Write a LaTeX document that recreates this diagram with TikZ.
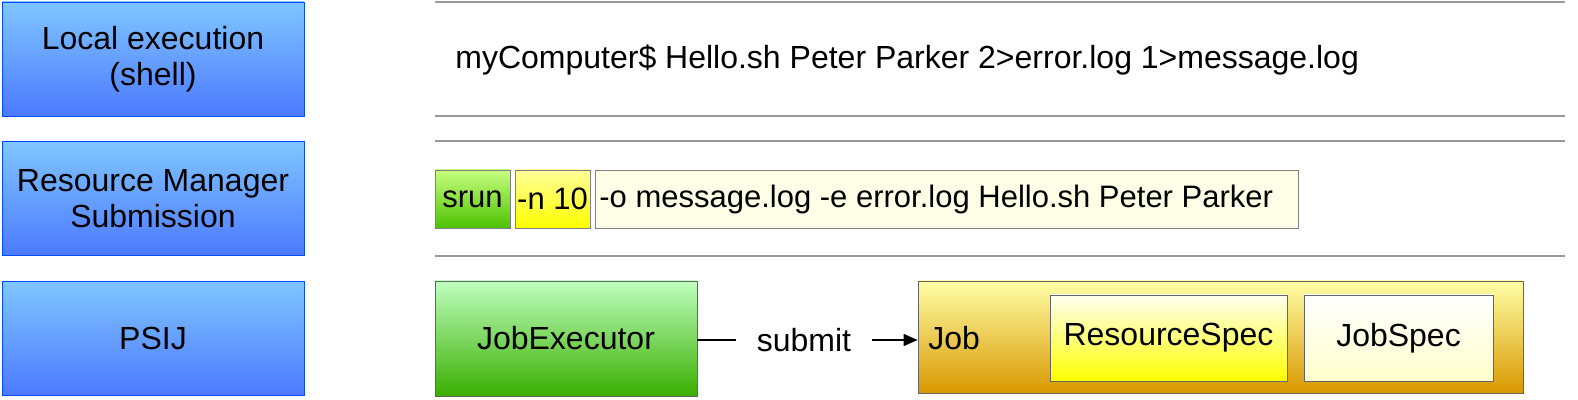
\documentclass[tikz,border=0pt]{standalone}
\usepackage{fontspec}
\setmainfont{Liberation Sans}
\usetikzlibrary{arrows.meta}
\begin{document}
\begin{tikzpicture}[x=0.5pt,y=-0.5pt,
  lbl/.style={draw=blue!70!cyan,top color=blue!45!cyan!50!white,bottom color=blue!75!cyan!70!white,align=center,font=\fontsize{16}{18}\selectfont,inner sep=0},
  hl/.style={draw=black!40,line width=0.6pt},
  cmd/.style={draw=black!50,font=\fontsize{15.5}{17}\selectfont,inner sep=0},
  txt/.style={font=\fontsize{16}{18}\selectfont,inner sep=0}]
\useasboundingbox (0,0) rectangle (1578,400);
\node[lbl,minimum width=151pt,minimum height=57pt] (l1) at (153,59) {Local execution\\(shell)};
\node[lbl,minimum width=151pt,minimum height=57pt] (l2) at (153,198.5) {Resource Manager\\Submission};
\node[lbl,minimum width=151pt,minimum height=57pt] (l3) at (153,338.5) {PSIJ};
\coordinate (a1) at (435,2); \coordinate (b1) at (1565,2);
\coordinate (a2) at (435,116); \coordinate (b2) at (1565,116);
\coordinate (a3) at (435,141); \coordinate (b3) at (1565,141);
\coordinate (a4) at (435,256); \coordinate (b4) at (1565,256);
\draw[hl] (a1)--(b1); \draw[hl] (a2)--(b2); \draw[hl] (a3)--(b3); \draw[hl] (a4)--(b4);
\node[txt,anchor=west] (c1) at (455,60) {myComputer\$ Hello.sh Peter Parker 2>error.log 1>message.log};
\node[cmd,top color=green!25!lime!50!white,bottom color=green!60!black!60!lime,minimum width=37.5pt,minimum height=29pt] (srun) at (472.5,199) {srun};
\node[cmd,top color=yellow!40,bottom color=yellow,minimum width=37.5pt,minimum height=29pt] (n10) at (552.5,199) {-n 10};
\node[cmd,fill=yellow!10,minimum width=351.5pt,minimum height=29pt] (rest) at (946.5,199) {};
\node[cmd,draw=none,anchor=west] (restt) at (599,199) {-o message.log -e error.log Hello.sh Peter Parker};
\node[cmd,draw=black!60,top color=green!25!white,bottom color=green!55!black!70!lime,minimum width=131pt,minimum height=57.5pt,font=\fontsize{16}{18}\selectfont] (je) at (566,338.5) {JobExecutor};
\node[cmd,draw=black!60,top color=yellow!35,bottom color=orange!60!yellow!85!black,minimum width=302.5pt,minimum height=56pt] (job) at (1220.5,337) {};
\node[txt,anchor=west] (jl) at (928,338) {Job};
\node[cmd,draw=black!60,top color=yellow!5,bottom color=yellow,minimum width=118.5pt,minimum height=43pt,font=\fontsize{16}{18}\selectfont] (rs) at (1168.5,338) {ResourceSpec};
\node[cmd,draw=black!60,top color=white,bottom color=yellow!20,minimum width=94.5pt,minimum height=43pt,font=\fontsize{16}{18}\selectfont] (js) at (1398.5,338) {JobSpec};
\node[txt] (sub) at (804,340) {submit};
\draw[line width=0.6pt] (je.east|-sub) -- ([xshift=-10]sub.west);
\draw[line width=0.6pt,-{Triangle[length=7pt,width=6pt]}] ([xshift=10]sub.east) -- (job.west|-sub);
\end{tikzpicture}
\end{document}
